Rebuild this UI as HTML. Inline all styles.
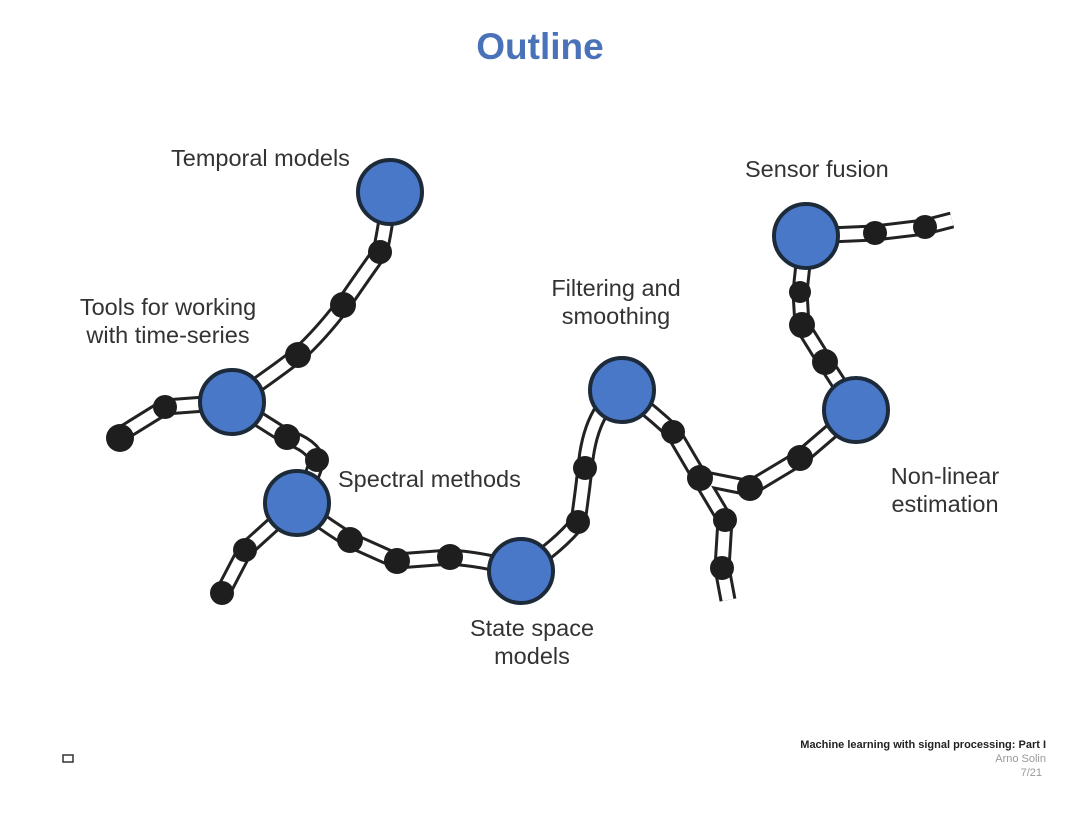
<!DOCTYPE html>
<html><head><meta charset="utf-8"><style>
body{margin:0;width:1080px;height:810px;background:#fff;overflow:hidden;font-family:"Liberation Sans",sans-serif;}
</style></head><body>
<svg width="1080" height="810" xmlns="http://www.w3.org/2000/svg">
<text x="540" y="59" text-anchor="middle" font-family="Liberation Sans" font-weight="bold" font-size="37" fill="#4a72b8">Outline</text>
<g fill="none" stroke-linejoin="round" stroke-linecap="butt">
<g stroke="#222" stroke-width="17">
<path d="M390,192 Q385,230 380,252 Q360,280 343,305 Q320,335 298,355 Q265,380 232,402"/>
<path d="M232,402 L165,407 L115,438"/>
<path d="M232,402 Q260,420 287,437 Q312,445 317,460 Q310,485 297,503"/>
<path d="M297,503 L245,550 L220,598"/>
<path d="M297,503 Q325,525 350,540 L397,561 L450,557 Q490,560 521,571"/>
<path d="M521,571 Q560,545 578,522 Q582,495 585,468 Q590,410 622,390"/>
<path d="M622,390 Q650,410 673,432 L700,478 L750,488 L800,458 L856,410"/>
<path d="M700,478 L725,520 L722,568 L728,600"/>
<path d="M856,410 L825,362 L802,325 L800,292 L806,236"/>
<path d="M806,236 L875,233 L925,227 L952,220"/>
</g>
<g stroke="#fff" stroke-width="11">
<path d="M390,192 Q385,230 380,252 Q360,280 343,305 Q320,335 298,355 Q265,380 232,402"/>
<path d="M232,402 L165,407 L115,438"/>
<path d="M232,402 Q260,420 287,437 Q312,445 317,460 Q310,485 297,503"/>
<path d="M297,503 L245,550 L220,598"/>
<path d="M297,503 Q325,525 350,540 L397,561 L450,557 Q490,560 521,571"/>
<path d="M521,571 Q560,545 578,522 Q582,495 585,468 Q590,410 622,390"/>
<path d="M622,390 Q650,410 673,432 L700,478 L750,488 L800,458 L856,410"/>
<path d="M700,478 L725,520 L722,568 L728,600"/>
<path d="M856,410 L825,362 L802,325 L800,292 L806,236"/>
<path d="M806,236 L875,233 L925,227 L952,220"/>
</g>
</g>
<g fill="#1e1e1e">
<circle cx="380" cy="252" r="12"/><circle cx="343" cy="305" r="13"/><circle cx="298" cy="355" r="13"/>
<circle cx="165" cy="407" r="12"/><circle cx="120" cy="438" r="14"/>
<circle cx="287" cy="437" r="13"/><circle cx="317" cy="460" r="12"/>
<circle cx="245" cy="550" r="12"/><circle cx="222" cy="593" r="12"/>
<circle cx="350" cy="540" r="13"/><circle cx="397" cy="561" r="13"/><circle cx="450" cy="557" r="13"/>
<circle cx="578" cy="522" r="12"/><circle cx="585" cy="468" r="12"/>
<circle cx="673" cy="432" r="12"/><circle cx="700" cy="478" r="13"/><circle cx="750" cy="488" r="13"/><circle cx="800" cy="458" r="13"/>
<circle cx="725" cy="520" r="12"/><circle cx="722" cy="568" r="12"/>
<circle cx="825" cy="362" r="13"/><circle cx="802" cy="325" r="13"/><circle cx="800" cy="292" r="11"/>
<circle cx="875" cy="233" r="12"/><circle cx="925" cy="227" r="12"/>
</g>
<g fill="#4a78c8" stroke="#1c2a3a" stroke-width="4">
<circle cx="390" cy="192" r="32"/><circle cx="232" cy="402" r="32"/><circle cx="297" cy="503" r="32"/>
<circle cx="521" cy="571" r="32"/><circle cx="622" cy="390" r="32"/><circle cx="856" cy="410" r="32"/><circle cx="806" cy="236" r="32"/>
</g>
<g font-family="Liberation Sans" font-size="23.5" fill="#333">
<text x="171" y="166">Temporal models</text>
<text x="745" y="177">Sensor fusion</text>
<text x="168" y="315" text-anchor="middle">Tools for working</text>
<text x="168" y="343" text-anchor="middle">with time-series</text>
<text x="616" y="296" text-anchor="middle">Filtering and</text>
<text x="616" y="324" text-anchor="middle">smoothing</text>
<text x="338" y="487">Spectral methods</text>
<text x="945" y="484" text-anchor="middle">Non-linear</text>
<text x="945" y="512" text-anchor="middle">estimation</text>
<text x="532" y="636" text-anchor="middle">State space</text>
<text x="532" y="664" text-anchor="middle">models</text>
</g>
<g font-family="Liberation Sans" font-size="11" text-anchor="end">
<text x="1046" y="748" font-weight="bold" fill="#222">Machine learning with signal processing: Part I</text>
<text x="1046" y="762" fill="#999">Arno Solin</text>
<text x="1042" y="776" fill="#999">7/21</text>
</g>
<rect x="63" y="755" width="10" height="7" fill="none" stroke="#333" stroke-width="1.5"/>
</svg>
</body></html>
